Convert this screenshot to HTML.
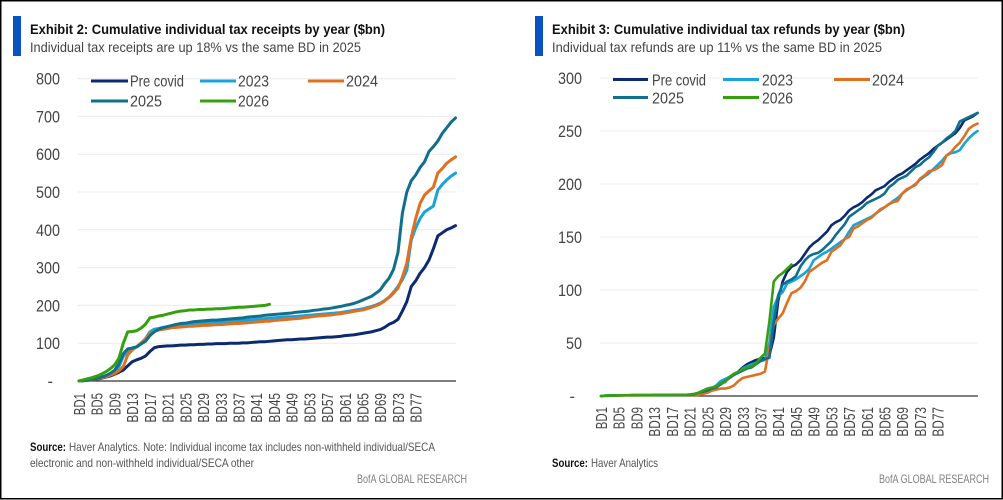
<!DOCTYPE html>
<html lang="en">
<head>
<meta charset="utf-8">
<title>Cumulative individual tax receipts and refunds by year</title>
<style>
html,body{margin:0;padding:0;background:#fff;}
svg{display:block;font-family:"Liberation Sans",Arial,sans-serif;}
</style>
</head>
<body>
<svg id="page" width="1003" height="500" viewBox="0 0 1003 500" xmlns="http://www.w3.org/2000/svg">
  <rect x="0" y="0" width="1003" height="500" fill="#fff"/>

  <rect x="13" y="16" width="8" height="40" fill="#0a52c0"/>
  <text x="30" y="34" font-size="14" font-weight="700" fill="#111" textLength="355" lengthAdjust="spacingAndGlyphs">Exhibit 2: Cumulative individual tax receipts by year ($bn)</text>
  <text x="30" y="52" font-size="14" fill="#444" textLength="331" lengthAdjust="spacingAndGlyphs">Individual tax receipts are up 18% vs the same BD in 2025</text>

  <rect x="535" y="16" width="8" height="40" fill="#0a52c0"/>
  <text x="552" y="34" font-size="14" font-weight="700" fill="#111" textLength="353" lengthAdjust="spacingAndGlyphs">Exhibit 3: Cumulative individual tax refunds by year ($bn)</text>
  <text x="552" y="52" font-size="14" fill="#444" textLength="330" lengthAdjust="spacingAndGlyphs">Individual tax refunds are up 11% vs the same BD in 2025</text>

  <g id="chart-left"></g>
  <g id="chart-right"></g>

  <g font-size="16" fill="#444">
    <g><line x1="91" y1="81" x2="128" y2="81" stroke="#0b2a6f" stroke-width="3"/><text x="130" y="86.5" textLength="54" lengthAdjust="spacingAndGlyphs">Pre covid</text></g>
    <g><line x1="200" y1="81" x2="236" y2="81" stroke="#18a3dc" stroke-width="3"/><text x="238" y="86.5" textLength="31" lengthAdjust="spacingAndGlyphs">2023</text></g>
    <g><line x1="308" y1="81" x2="344" y2="81" stroke="#e0701f" stroke-width="3"/><text x="346" y="86.5" textLength="32" lengthAdjust="spacingAndGlyphs">2024</text></g>
    <g><line x1="91" y1="101" x2="128" y2="101" stroke="#0f6f8c" stroke-width="3"/><text x="130" y="106.5" textLength="32" lengthAdjust="spacingAndGlyphs">2025</text></g>
    <g><line x1="200" y1="101" x2="236" y2="101" stroke="#34a010" stroke-width="3"/><text x="238" y="106.5" textLength="31" lengthAdjust="spacingAndGlyphs">2026</text></g>
  </g>
  <g font-size="16" fill="#444">
    <g><line x1="613" y1="79.5" x2="648" y2="79.5" stroke="#0b2a6f" stroke-width="3"/><text x="652" y="85.5" textLength="54" lengthAdjust="spacingAndGlyphs">Pre covid</text></g>
    <g><line x1="723" y1="79.5" x2="759" y2="79.5" stroke="#18a3dc" stroke-width="3"/><text x="762" y="85.5" textLength="31" lengthAdjust="spacingAndGlyphs">2023</text></g>
    <g><line x1="834" y1="79.5" x2="870" y2="79.5" stroke="#e0701f" stroke-width="3"/><text x="872" y="85.5" textLength="32" lengthAdjust="spacingAndGlyphs">2024</text></g>
    <g><line x1="613" y1="97.5" x2="648" y2="97.5" stroke="#0f6f8c" stroke-width="3"/><text x="652" y="103.5" textLength="32" lengthAdjust="spacingAndGlyphs">2025</text></g>
    <g><line x1="723" y1="97.5" x2="759" y2="97.5" stroke="#34a010" stroke-width="3"/><text x="762" y="103.5" textLength="31" lengthAdjust="spacingAndGlyphs">2026</text></g>
  </g>

  <text x="30" y="451" font-size="12" font-weight="700" fill="#111" textLength="36" lengthAdjust="spacingAndGlyphs">Source:</text>
  <text x="69" y="451" font-size="12" fill="#555" textLength="366" lengthAdjust="spacingAndGlyphs">Haver Analytics. Note: Individual income tax includes non-withheld individual/SECA</text>
  <text x="30" y="467" font-size="12" fill="#555" textLength="224" lengthAdjust="spacingAndGlyphs">electronic and non-withheld individual/SECA other</text>
  <text x="357" y="483" font-size="12" fill="#808080" textLength="110" lengthAdjust="spacingAndGlyphs">BofA GLOBAL RESEARCH</text>

  <text x="552" y="467" font-size="12" font-weight="700" fill="#111" textLength="36" lengthAdjust="spacingAndGlyphs">Source:</text>
  <text x="591" y="467" font-size="12" fill="#555" textLength="67" lengthAdjust="spacingAndGlyphs">Haver Analytics</text>
  <text x="879" y="483" font-size="12" fill="#808080" textLength="110" lengthAdjust="spacingAndGlyphs">BofA GLOBAL RESEARCH</text>

  <rect x="0.75" y="0.75" width="1001.5" height="498" fill="none" stroke="#000" stroke-width="1.5"/>
</svg>

<script>
const xTickLabels = ["BD1","BD5","BD9","BD13","BD17","BD21","BD25","BD29","BD33","BD37","BD41","BD45","BD49","BD53","BD57","BD61","BD65","BD69","BD73","BD77"];
const receiptsYTicks = [0,100,200,300,400,500,600,700,800];
const refundsYTicks = [0,50,100,150,200,250,300];

const receiptsPreCovid = [0,1,2,4,5,7,10,13,18,23,29,40,51,56,60,66,78,88,91,92,93,93,94,95,95,96,96,97,97,98,98,99,99,99,100,100,100,101,101,102,103,104,104,105,106,107,108,109,109,110,111,111,112,113,114,115,116,116,117,118,120,121,122,124,126,128,130,133,136,142,150,155,163,185,210,250,265,285,300,320,350,384,392,400,405,411];
const receipts2023 = [0,1,3,5,7,10,13,18,25,38,65,80,87,90,100,112,130,137,139,142,144,146,148,149,150,151,152,153,153,154,155,155,156,156,157,158,159,160,161,162,163,164,165,166,167,168,169,170,170,171,172,173,174,175,176,177,178,179,180,181,183,185,187,189,191,194,197,201,206,213,222,235,250,268,293,373,405,430,447,455,463,505,520,532,542,550];
const receipts2024 = [0,1,2,4,6,8,11,15,20,27,38,69,82,91,100,110,125,131,135,137,139,141,142,143,144,145,145,146,147,147,148,149,149,150,151,152,152,153,154,155,156,157,158,158,160,161,162,163,164,165,166,168,169,171,172,173,174,175,177,178,180,182,184,186,188,191,195,199,204,212,221,232,246,275,312,380,430,470,492,503,513,550,562,576,585,593];
const receipts2025 = [0,1,3,5,7,10,14,20,28,45,72,85,87,90,98,105,120,130,137,141,144,147,150,152,153,155,157,158,159,160,161,161,162,163,164,165,166,167,169,170,171,172,174,175,176,177,178,179,180,182,183,184,185,187,188,190,191,193,195,197,200,202,205,209,214,219,224,232,241,258,272,295,340,444,500,530,545,565,580,607,620,635,655,670,685,696];
const receipts2026 = [0,3,6,9,13,18,24,32,42,60,100,130,131,133,140,150,167,169,172,174,177,180,183,185,186,188,188,189,189,190,190,191,191,192,193,194,195,195,196,197,198,199,200,203];

const refundsPreCovid = [0,0.3,0.4,0.5,0.6,0.7,0.7,0.8,0.8,0.8,0.8,0.8,0.9,0.9,0.9,0.9,1,1,1,1,1,1.5,2,4,6,7,9,11,14,17,20,23,27,30,32,34,35,36,38,55,90,108,117,122,124,128,134,140,144,147,151,155,161,164,166,170,175,178,180,183,187,190,194,196,198,202,205,208,210,213,216,219,223,226,229,233,236,239,242,245,248,253,260,262,264,267];
const refunds2023 = [0,0.3,0.4,0.5,0.6,0.7,0.7,0.8,0.8,0.8,0.8,0.8,0.9,0.9,0.9,0.9,1,1,1,1,1,1.5,3,5,6,7,10,14,16,18,20,22,26,28,30,31,33,34,50,84,94,98,106,108,110,113,116,120,128,131,134,136,139,142,145,148,155,161,163,165,167,169,172,175,178,181,184,187,191,194,197,200,204,207,210,214,218,222,227,229,230,232,238,243,247,250];
const refunds2024 = [0,0.2,0.3,0.4,0.5,0.5,0.6,0.6,0.6,0.7,0.7,0.7,0.7,0.8,0.8,0.8,0.8,0.9,0.9,0.9,0.9,0.9,1,2,3,5,6,7,7,8,10,14,17,18,19,20,21,23,45,67,73,78,88,97,99,102,108,117,120,123,126,128,136,139,142,148,150,158,160,163,166,168,172,176,178,181,183,184,191,195,197,199,205,208,212,213,215,218,227,230,235,239,245,252,255,257];
const refunds2025 = [0,0.3,0.4,0.5,0.6,0.7,0.7,0.8,0.8,0.8,0.8,0.8,0.9,0.9,0.9,0.9,1,1,1,1,1,1.5,3,4,5,7,8,11,14,17,20,22,24,26,27,30,33,35,36,70,95,105,108,110,113,122,128,132,134,135,138,142,146,152,157,162,169,172,175,178,182,184,186,188,191,197,200,204,206,208,212,216,218,222,225,230,236,239,243,246,250,259,261,263,265,267];
const refunds2026 = [0,0.3,0.4,0.5,0.6,0.7,0.7,0.7,0.8,0.8,0.8,0.8,0.8,0.8,0.9,0.9,0.9,1,1,1,1.5,2,3,5,7,8,9,12,13,18,21,23,25,27,28,31,36,40,70,108,113,116,120,124];

const seriesNames = ["pre-covid","2023","2024","2025","2026"];
const seriesColors = ["#0b2a6f","#18a3dc","#e0701f","#0f6f8c","#34a010"];

const SVGNS = "http://www.w3.org/2000/svg";

function make(tag, attrs, parent) {
  const el = document.createElementNS(SVGNS, tag);
  for (const k in attrs) el.setAttribute(k, attrs[k]);
  parent.appendChild(el);
  return el;
}

function drawChart(cfg) {
  const root = document.getElementById(cfg.id);
  const xScale = function (i) { return cfg.x0 + i * cfg.xStep; };
  const yScale = function (v) { return cfg.y0 - (v - 0) * cfg.yUnit; };

  cfg.yTicks.forEach(function (t) {
    const y = yScale(t);
    if (t !== 0) {
      const g = make("line", {x1: cfg.axisStart, x2: cfg.axisEnd, y1: y, y2: y, stroke: "#ececec", "stroke-width": 1}, root);
      
      
    }
    const text = t === 0 ? "-" : String(t);
    const attrs = {x: t === 0 ? cfg.labelRight - 7 : cfg.labelRight, y: y + 6, "text-anchor": "end", "font-size": 16.5, fill: "#444"};
    if (t !== 0) {
      attrs.textLength = text.length * 8;
      attrs.lengthAdjust = "spacingAndGlyphs";
    }
    const lab = make("text", attrs, root);
    lab.textContent = text;
    
    
  });

  xTickLabels.forEach(function (label) {
    const n = parseInt(label.slice(2), 10) - 1;
    const x = xScale(n) + 6;
    const y = cfg.y0 + cfg.labelGap;
    const t = make("text", {
      x: x, y: y, "text-anchor": "end", "font-size": 15.5, fill: "#444",
      transform: "rotate(-90 " + x + " " + y + ")",
      textLength: label.length * 7.4, lengthAdjust: "spacingAndGlyphs"
    }, root);
    t.textContent = label;
    
    
  });

  const axis = make("line", {x1: cfg.axisStart, x2: cfg.axisEnd, y1: cfg.y0, y2: cfg.y0, stroke: cfg.axisColor, "stroke-width": cfg.axisWidth}, root);
  
  

  cfg.series.forEach(function (vals, s) {
    const pts = vals.map(function (v, i) { return xScale(i).toFixed(2) + "," + yScale(v).toFixed(2); }).join(" ");
    const line = make("polyline", {points: pts, fill: "none", stroke: seriesColors[s], "stroke-width": cfg.lineWidth, "stroke-linejoin": "round", "stroke-linecap": "round"}, root);
    
    
  });
}

drawChart({
  id: "chart-left", x0: 79, xStep: 4.43, y0: 381, yUnit: 0.378,
  axisStart: 78, axisEnd: 456, labelRight: 60, labelGap: 12,
  axisColor: "#555", axisWidth: 1.6, lineWidth: 3, yTicks: receiptsYTicks,
  series: [receiptsPreCovid, receipts2023, receipts2024, receipts2025, receipts2026]
});
drawChart({
  id: "chart-right", x0: 601, xStep: 4.43, y0: 396, yUnit: 1.06,
  axisStart: 600, axisEnd: 978, labelRight: 582, labelGap: 11,
  axisColor: "#333", axisWidth: 1.2, lineWidth: 2.6, yTicks: refundsYTicks,
  series: [refundsPreCovid, refunds2023, refunds2024, refunds2025, refunds2026]
});
</script>
</body>
</html>
